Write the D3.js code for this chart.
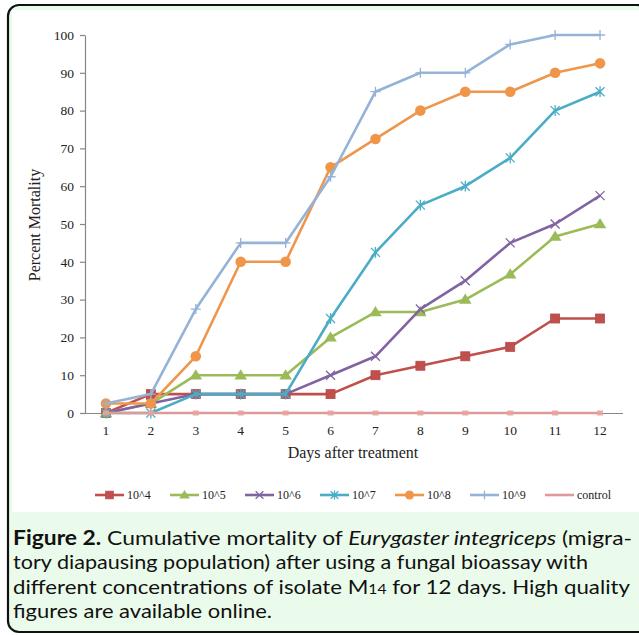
<!DOCTYPE html>
<html><head><meta charset="utf-8">
<script src="https://cdn.jsdelivr.net/npm/d3@7"></script>
<style>
html,body{margin:0;padding:0;background:#fff;}
svg{display:block;}
</style></head>
<body>
<svg id="chart" width="639" height="635"></svg>
<script>
// ---- data ----
const days = [1,2,3,4,5,6,7,8,9,10,11,12];
const seriesNames = ["10^4","10^5","10^6","10^7","10^8","10^9","control"];
const s1e4 = [0,5,5,5,5,5,10,12.5,15,17.5,25,25];
const s1e5 = [0,2.5,10,10,10,20,26.7,26.7,30,36.7,46.7,50];
const s1e6 = [0,2.5,5,5,5,10,15,27.5,35,45,50,57.5];
const s1e7 = [0,0,5,5,5,25,42.5,55,60,67.5,80,85];
const s1e8 = [2.5,2.5,15,40,40,65,72.5,80,85,85,90,92.5];
const s1e9 = [2.5,5,27.5,45,45,62.5,85,90,90,97.5,100,100];
const sControl = [0,0,0,0,0,0,0,0,0,0,0,0];
const yTicks = [0,10,20,30,40,50,60,70,80,90,100];
const xTitle = "Days after treatment";
const yTitle = "Percent Mortality";

const seriesValues = [s1e4,s1e5,s1e6,s1e7,s1e8,s1e9,sControl];
const colors = ["#C0504D","#9BBB59","#8064A2","#4BACC6","#F0964B","#95B3D7","#DD9A98"];
const markers = ["square","triangle","x","star","circle","plus","dash"];

const svg = d3.select("#chart");

// frame
svg.append("rect").attr("x",8).attr("y",5).attr("width",640).attr("height",627)
  .attr("rx",11).attr("ry",11).attr("fill","#ebfbeb").attr("stroke","#111").attr("stroke-width",2.2);
svg.append("rect").attr("x",12).attr("y",10).attr("width",627).attr("height",502).attr("fill","#fff");

const x = d3.scaleBand().domain(days).range([83.5,622.5]);
const cx = d => x(d) + x.bandwidth()/2;
const y = d3.scaleLinear().domain([0,100]).range([413,35]);

const serif = "'Liberation Serif','Times New Roman',serif";
const axisColor = "#868686";

// y axis
const ya = svg.append("g").attr("transform","translate(85,0)")
  .call(d3.axisLeft(y).tickValues(yTicks).tickSize(5).tickPadding(6).tickSizeOuter(0));
ya.select(".domain").attr("stroke",axisColor).attr("stroke-width",1.2);
ya.selectAll(".tick line").attr("stroke",axisColor).attr("stroke-width",1.2);
ya.selectAll(".tick text").attr("font-family",serif).attr("font-size",13.5).attr("fill","#222");

// x axis
const xa = svg.append("g").attr("transform","translate(0,413)")
  .call(d3.axisBottom(x).tickSize(0).tickPadding(12).tickSizeOuter(0));
xa.select(".domain").attr("stroke",axisColor).attr("stroke-width",1.2);
xa.selectAll(".tick text").attr("font-family",serif).attr("font-size",13.5).attr("fill","#222");

// titles
svg.append("text").attr("x",353).attr("y",458).attr("text-anchor","middle")
  .attr("font-family",serif).attr("font-size",16).attr("fill","#222").text(xTitle);
svg.append("text").attr("transform","translate(40,225) rotate(-90)").attr("text-anchor","middle")
  .attr("font-family",serif).attr("font-size",16).attr("fill","#222").text(yTitle);

function drawMarker(g, type, px, py, color, s){
  const k = s || 1;
  if(type==="square"){
    g.append("rect").attr("x",px-4.5*k).attr("y",py-4.5*k).attr("width",9*k).attr("height",9*k)
      .attr("fill",color).attr("stroke",d3.color(color).darker(0.2)).attr("stroke-width",0.8);
  } else if(type==="triangle"){
    const r=6*k;
    g.append("path").attr("d",`M${px},${py-r}L${px+r*1.05},${py+r*0.7}L${px-r*1.05},${py+r*0.7}Z`)
      .attr("fill",color);
  } else if(type==="circle"){
    g.append("circle").attr("cx",px).attr("cy",py).attr("r",5.3*k).attr("fill",color);
  } else if(type==="x"){
    const r=4.5*k;
    g.append("path").attr("d",`M${px-r},${py-r}L${px+r},${py+r}M${px-r},${py+r}L${px+r},${py-r}`)
      .attr("stroke",color).attr("stroke-width",1.3);
  } else if(type==="star"){
    const r=4.5*k;
    g.append("path").attr("d",`M${px-r},${py-r}L${px+r},${py+r}M${px-r},${py+r}L${px+r},${py-r}M${px},${py-r*1.2}L${px},${py+r*1.2}`)
      .attr("stroke",color).attr("stroke-width",1.3);
  } else if(type==="plus"){
    const r=5*k;
    g.append("path").attr("d",`M${px-r},${py}L${px+r},${py}M${px},${py-r}L${px},${py+r}`)
      .attr("stroke",color).attr("stroke-width",1.3);
  } else if(type==="dash"){
    g.append("rect").attr("x",px-3).attr("y",py-2.5).attr("width",6).attr("height",5)
      .attr("fill",d3.color(color).brighter(0.15)).attr("opacity",0.9);
  }
}

const line = d3.line().x((v,i)=>cx(days[i])).y(v=>y(v));
seriesValues.forEach((vals,si)=>{
  const g = svg.append("g");
  g.append("path").attr("d",line(vals)).attr("fill","none")
    .attr("stroke",colors[si]).attr("stroke-width",2.6).attr("stroke-linejoin","round");
  vals.forEach((v,i)=>drawMarker(g, markers[si], cx(days[i]), y(v), colors[si]));
});

// legend
const lg = svg.append("g");
seriesNames.forEach((name,i)=>{
  const x0 = 95 + i*75, ly = 495;
  lg.append("line").attr("x1",x0).attr("x2",x0+29).attr("y1",ly).attr("y2",ly)
    .attr("stroke",colors[i]).attr("stroke-width",2.6);
  if(markers[i]!=="dash") drawMarker(lg, markers[i], x0+14.5, ly, colors[i], 0.85);
  lg.append("text").attr("x",x0+32).attr("y",ly+4).attr("font-family",serif).attr("font-size",12)
    .attr("fill","#222").text(name);
});

// caption
const sans = "Lato,'Open Sans',sans-serif";
const cap = svg.append("g").attr("font-family",sans).attr("font-size",20).attr("fill","#111");
const l1 = cap.append("text").attr("x",13).attr("y",545).attr("textLength",619).attr("lengthAdjust","spacingAndGlyphs");
l1.append("tspan").attr("font-weight","bold").text("Figure 2.");
l1.append("tspan").text(" Cumulative mortality of ");
l1.append("tspan").attr("font-style","italic").text("Eurygaster integriceps");
l1.append("tspan").text(" (migra-");
cap.append("text").attr("x",13).attr("y",569).attr("textLength",575).attr("lengthAdjust","spacingAndGlyphs")
  .text("tory diapausing population) after using a fungal bioassay with");
const l3 = cap.append("text").attr("x",13).attr("y",594).attr("textLength",617).attr("lengthAdjust","spacingAndGlyphs");
l3.append("tspan").text("different concentrations of isolate M");
l3.append("tspan").attr("font-size",14).text("14");
l3.append("tspan").text(" for 12 days. High quality");
cap.append("text").attr("x",13).attr("y",618).attr("textLength",259).attr("lengthAdjust","spacingAndGlyphs")
  .text("figures are available online.");
</script>
</body></html>
